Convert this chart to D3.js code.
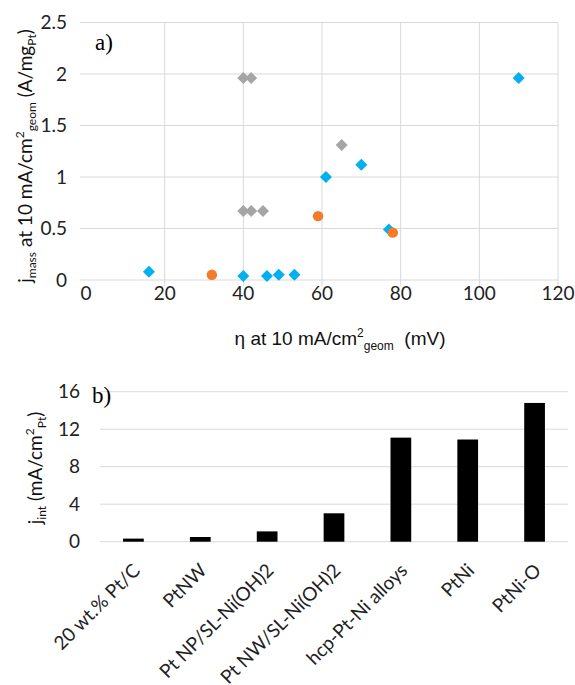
<!DOCTYPE html>
<html><head><meta charset="utf-8">
<script src="https://cdn.jsdelivr.net/npm/d3@7"></script>
<style>
body{margin:0;background:#fff;}
svg{display:block;}
</style></head>
<body>
<script>
// ---- Data ----
const grayX = [40, 42, 40, 42, 45, 65];
const grayY = [1.96, 1.96, 0.67, 0.67, 0.67, 1.31];
const blueX = [16, 40, 46, 49, 53, 61, 70, 77, 110];
const blueY = [0.08, 0.04, 0.04, 0.05, 0.05, 1.00, 1.12, 0.49, 1.96];
const orangeX = [32, 59, 78];
const orangeY = [0.05, 0.62, 0.46];
const xTicksA = [0, 20, 40, 60, 80, 100, 120];
const yTicksA = [0, 0.5, 1, 1.5, 2, 2.5];

const categories = ["20 wt.% Pt/C", "PtNW", "Pt NP/SL-Ni(OH)2", "Pt NW/SL-Ni(OH)2", "hcp-Pt-Ni alloys", "PtNi", "PtNi-O"];
const barValues = [0.33, 0.5, 1.1, 3.03, 11.1, 10.9, 14.8];
const yTicksB = [0, 4, 8, 12, 16];

const W = 575, H = 685;
const svg = d3.select("body").append("svg").attr("width", W).attr("height", H);
const tickFont = "Lato, 'Open Sans', sans-serif";
const grid = "#d9d9d9";

// ---- Panel a ----
const xA = d3.scaleLinear().domain([0, 120]).range([86, 558]);
const yA = d3.scaleLinear().domain([0, 2.5]).range([280, 22.5]);
const gA = svg.append("g");

gA.selectAll("line.h").data(yTicksA).join("line")
  .attr("x1", 80).attr("x2", xA(120))
  .attr("y1", d => yA(d)).attr("y2", d => yA(d))
  .attr("stroke", grid).attr("stroke-width", 1);
gA.selectAll("line.v").data(xTicksA.filter(d => d > 0)).join("line")
  .attr("x1", d => xA(d)).attr("x2", d => xA(d))
  .attr("y1", yA(2.5)).attr("y2", yA(0) + 6)
  .attr("stroke", grid).attr("stroke-width", 1);

gA.selectAll("text.yt").data(yTicksA).join("text")
  .attr("x", 67).attr("y", d => yA(d)).attr("dy", "0.35em")
  .attr("text-anchor", "end").attr("font-family", tickFont).attr("font-size", 19)
  .attr("fill", "#222").text(d => d);
gA.selectAll("text.xt").data(xTicksA).join("text")
  .attr("x", d => xA(d)).attr("y", 300)
  .attr("text-anchor", "middle").attr("font-family", tickFont).attr("font-size", 19)
  .attr("fill", "#222").text(d => d);

const diamond = d3.symbol().type(d3.symbolSquare).size(72);
const circle = d3.symbol().type(d3.symbolCircle).size(86);
function pts(xs, ys, sym, color, rot) {
  gA.append("g").selectAll("path").data(xs.map((x, i) => [x, ys[i]])).join("path")
    .attr("d", sym)
    .attr("transform", d => `translate(${xA(d[0])},${yA(d[1])}) rotate(${rot})`)
    .attr("fill", color);
}
pts(grayX, grayY, diamond, "#a5a5a5", 45);
pts(blueX, blueY, diamond, "#00b0f0", 45);
pts(orangeX, orangeY, circle, "#f47b2a", 0);

gA.append("text").attr("x", 95).attr("y", 50)
  .attr("font-family", "'Liberation Serif', 'Times New Roman', serif").attr("font-size", 23)
  .attr("fill", "#000").text("a)");

// x title
const xt = gA.append("text").attr("x", 340).attr("y", 345).attr("text-anchor", "middle")
  .attr("font-family", "'Liberation Sans', Arial, sans-serif").attr("font-size", 19).attr("fill", "#111");
xt.append("tspan").text("η at 10 mA/cm");
xt.append("tspan").attr("font-size", 12).attr("dy", -8).text("2");
xt.append("tspan").attr("font-size", 12).attr("dy", 13).text("geom");
xt.append("tspan").attr("dy", -5).text("  (mV)").attr("xml:space", "preserve");

// y title
const yt = gA.append("text").attr("transform", "translate(32,156) rotate(-90)").attr("text-anchor", "middle")
  .attr("font-family", tickFont).attr("font-size", 19).attr("fill", "#111");
yt.append("tspan").text("j");
yt.append("tspan").attr("font-size", 12).attr("dy", 4).text("mass");
yt.append("tspan").attr("dy", -4).text(" at 10 mA/cm");
yt.append("tspan").attr("font-size", 12).attr("dy", -8).text("2");
yt.append("tspan").attr("font-size", 12).attr("dy", 12).text("geom");
yt.append("tspan").attr("dy", -4).text(" (A/mg");
yt.append("tspan").attr("font-size", 12).attr("dy", 4).text("Pt");
yt.append("tspan").attr("dy", -4).text(")");

// ---- Panel b ----
const xB = d3.scaleBand().domain(categories).range([100, 568]).paddingInner(0.69).paddingOuter(0.345);
const yB = d3.scaleLinear().domain([0, 16]).range([541.7, 391.7]);
const gB = svg.append("g");

gB.selectAll("line.h").data(yTicksB).join("line")
  .attr("x1", 100).attr("x2", 568)
  .attr("y1", d => yB(d)).attr("y2", d => yB(d))
  .attr("stroke", grid).attr("stroke-width", 1);

gB.selectAll("rect").data(categories.map((c, i) => [c, barValues[i]])).join("rect")
  .attr("x", d => xB(d[0])).attr("width", xB.bandwidth())
  .attr("y", d => yB(d[1])).attr("height", d => yB(0) - yB(d[1]))
  .attr("fill", "#000");

gB.selectAll("text.yt").data(yTicksB).join("text")
  .attr("x", 80).attr("y", d => yB(d)).attr("dy", "0.35em")
  .attr("text-anchor", "end").attr("font-family", tickFont).attr("font-size", 19)
  .attr("fill", "#222").text(d => d);

gB.selectAll("text.xt").data(categories).join("text")
  .attr("transform", d => `translate(${xB(d) + xB.bandwidth() / 2 + 3},567) rotate(-45)`)
  .attr("text-anchor", "end").attr("dy", "0.35em")
  .attr("font-family", tickFont).attr("font-size", 19)
  .attr("fill", "#222").text(d => d);

gB.append("text").attr("x", 92).attr("y", 403)
  .attr("font-family", "'Liberation Serif', 'Times New Roman', serif").attr("font-size", 23)
  .attr("fill", "#000").text("b)");

const ybt = gB.append("text").attr("transform", "translate(42,468) rotate(-90)").attr("text-anchor", "middle")
  .attr("font-family", tickFont).attr("font-size", 19).attr("fill", "#111");
ybt.append("tspan").text("j");
ybt.append("tspan").attr("font-size", 12).attr("dy", 4).text("int");
ybt.append("tspan").attr("dy", -4).text(" (mA/cm");
ybt.append("tspan").attr("font-size", 12).attr("dy", -8).text("2");
ybt.append("tspan").attr("font-size", 12).attr("dy", 12).text("Pt");
ybt.append("tspan").attr("dy", -4).text(")");
</script>
</body></html>
